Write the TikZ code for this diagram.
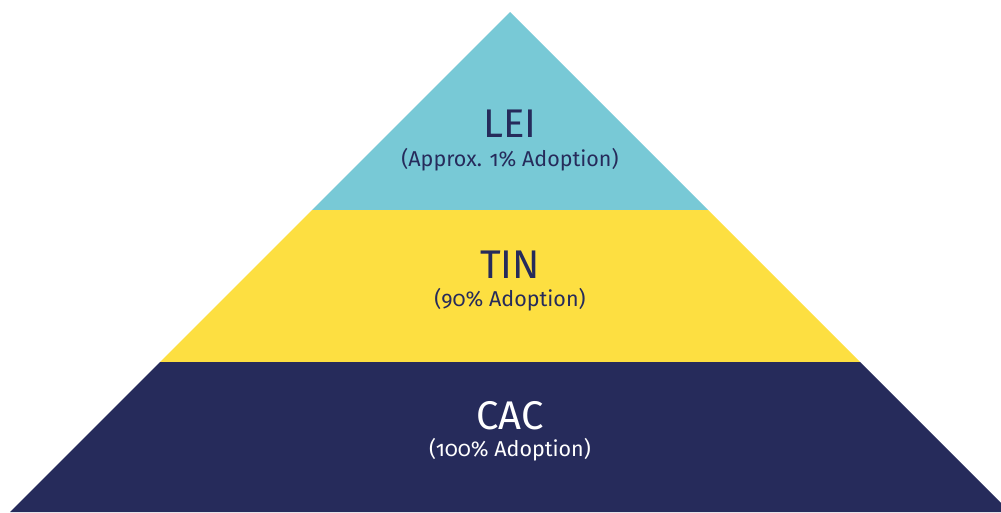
\documentclass[tikz,border=0pt]{standalone}
\usepackage{fontspec}
\setmainfont{Fira Sans}[Numbers=OldStyle]
\begin{document}
\begin{tikzpicture}[x=1pt,y=-1pt,
  title/.style={anchor=base,inner sep=0pt,font=\fontsize{40}{40}\selectfont},
  sub/.style={anchor=base,inner sep=0pt,font=\fontsize{21.5}{21.5}\selectfont}]
\definecolor{teal}{HTML}{78C9D6}
\definecolor{sun}{HTML}{FDDF41}
\definecolor{navy}{HTML}{262B5B}
\useasboundingbox (0,0) rectangle (1001,512);
\clip (0,0) rectangle (1001,512);
% tiers of the pyramid
\fill[teal] (510,12) -- (708,210) -- (312,210) -- cycle;
\fill[sun] (312,210) -- (708,210) -- (860,362) -- (160,362) -- cycle;
\fill[navy] (160,362) -- (860,362) -- (1010,512) -- (10,512) -- cycle;
% labels
\node[title,text=navy] (lei) at (510,137) {LEI};
\node[sub,text=navy] (leis) at (510,166) {(Approx. 1\% Adoption)};
\node[title,text=navy] (tin) at (510,278) {TIN};
\node[sub,text=navy] (tins) at (510,306) {(90\% Adoption)};
\node[title,text=white] (cac) at (510,429) {CAC};
\node[sub,text=white] (cacs) at (510,456) {(100\% Adoption)};
\end{tikzpicture}
\end{document}
